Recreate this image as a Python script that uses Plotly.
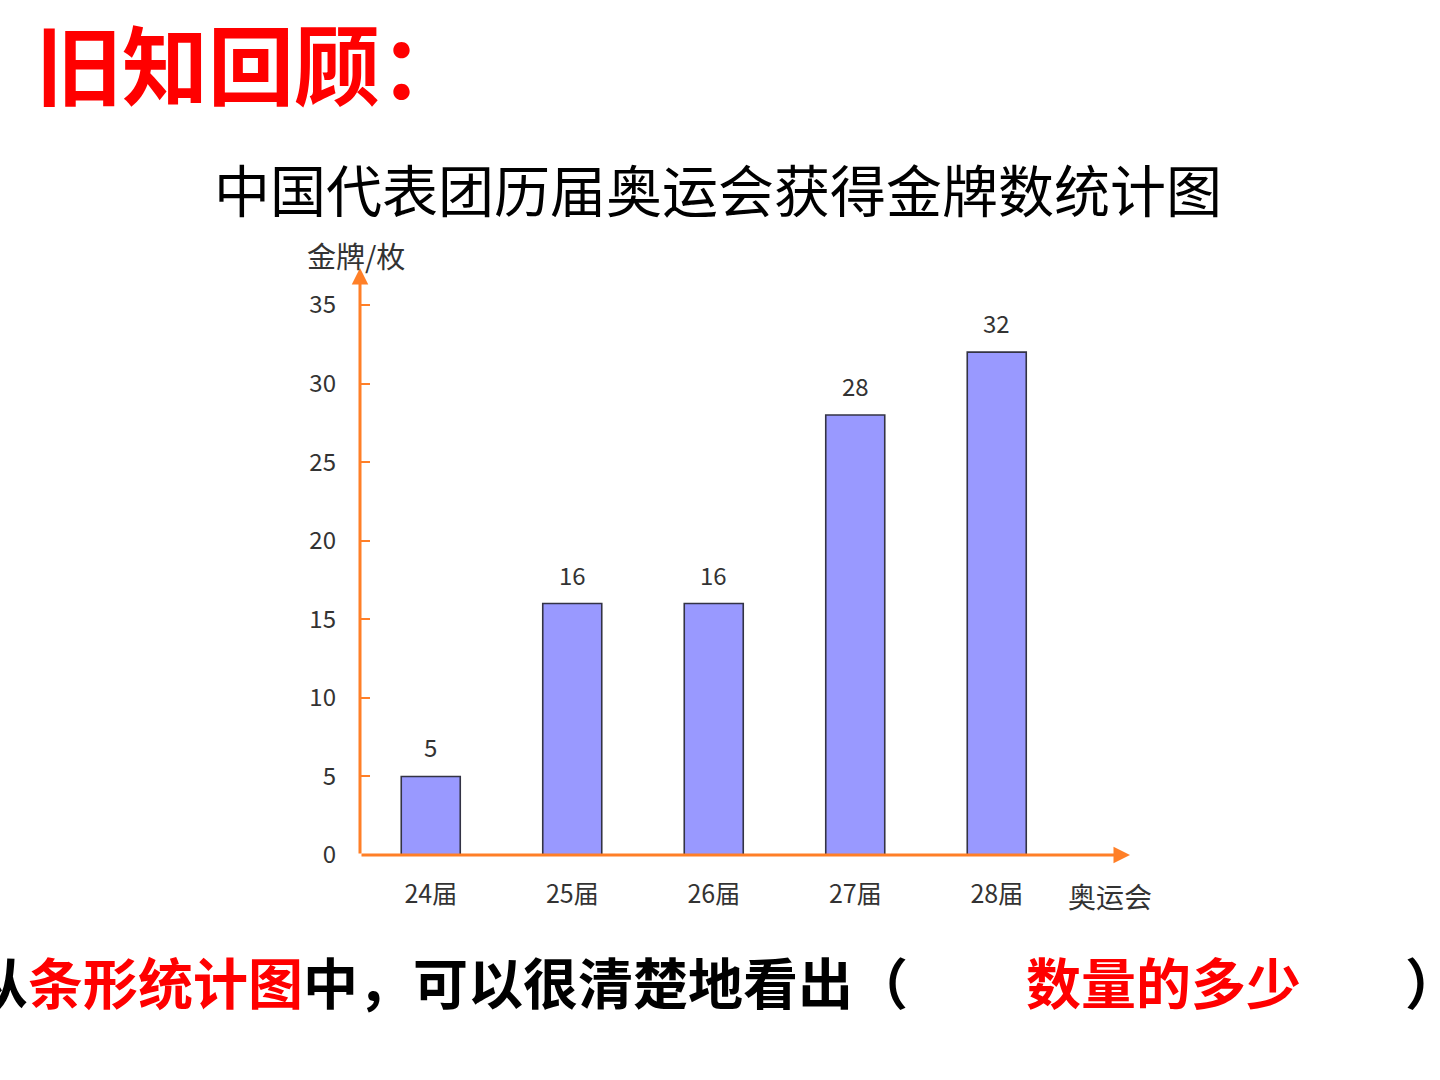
import plotly.graph_objects as go

# ---- data ----
categories = ["24届", "25届", "26届", "27届", "28届"]
gold_medals = [5, 16, 16, 28, 32]
y_ticks = [0, 5, 10, 15, 20, 25, 30, 35]

heading = "旧知回顾："
chart_title = "中国代表团历届奥运会获得金牌数统计图"
y_title = "金牌/枚"
x_title = "奥运会"

# ---- layout geometry (pixels) ----
FW, FH = 1440, 1080
L, R, T, B = 360, 1130, 268, 855
PW, PH = R - L, B - T

def px(x):
    return (x - L) / PW

def py(y):
    return (B - y) / PH

ORANGE = "#FF7F27"
FONT = "Noto Sans CJK SC"
X_MAX = -0.5 + PW / 141.5
Y_MAX = 35 * PH / (B - 305)

fig = go.Figure()
fig.add_trace(go.Bar(
    x=list(range(len(categories))),
    y=gold_medals,
    width=0.417,
    marker=dict(color="#9999FF", line=dict(color="#333344", width=1.6)),
    hoverinfo="skip",
))

annotations = []
for i, v in enumerate(gold_medals):
    annotations.append(dict(
        x=i, y=v, xref="x", yref="y", text=str(v), showarrow=False,
        yanchor="bottom", yshift=10,
        font=dict(family=FONT, size=24, color="#333333"),
    ))

# axis arrows
annotations.append(dict(
    x=X_MAX, y=0, ax=-0.5, ay=0, xref="x", yref="y", axref="x", ayref="y",
    text="", showarrow=True, arrowhead=2, arrowsize=1.1, arrowwidth=3,
    arrowcolor=ORANGE,
))
annotations.append(dict(
    x=-0.5, y=Y_MAX, ax=-0.5, ay=0, xref="x", yref="y", axref="x", ayref="y",
    text="", showarrow=True, arrowhead=2, arrowsize=1.1, arrowwidth=3,
    arrowcolor=ORANGE,
))

# texts
annotations += [
    dict(x=px(34), y=py(62), xref="paper", yref="paper", xanchor="left",
         yanchor="middle", text="<b>" + heading + "</b>", showarrow=False,
         font=dict(family=FONT, size=86, color="#FF0000")),
    dict(x=px(718), y=py(187), xref="paper", yref="paper", xanchor="center",
         yanchor="middle", text=chart_title, showarrow=False,
         font=dict(family=FONT, size=56, color="#000000")),
    dict(x=px(356), y=py(255), xref="paper", yref="paper", xanchor="center",
         yanchor="middle", text=y_title, showarrow=False,
         font=dict(family=FONT, size=29, color="#333333")),
    dict(x=px(1110), y=py(896), xref="paper", yref="paper", xanchor="center",
         yanchor="middle", text=x_title, showarrow=False,
         font=dict(family=FONT, size=28, color="#333333")),
    dict(x=px(-29), y=py(980), xref="paper", yref="paper", xanchor="left",
         yanchor="middle",
         text='<b>从<span style="color:#FF0000">条形统计图</span>中，可以很清楚地看出（</b>',
         showarrow=False, font=dict(family=FONT, size=55, color="#000000")),
    dict(x=px(1163), y=py(980), xref="paper", yref="paper", xanchor="center",
         yanchor="middle", text="<b>数量的多少</b>", showarrow=False,
         font=dict(family=FONT, size=55, color="#FF0000")),
    dict(x=px(1462), y=py(980), xref="paper", yref="paper", xanchor="right",
         yanchor="middle", text="<b>）</b>", showarrow=False,
         font=dict(family=FONT, size=55, color="#000000")),
]

fig.update_layout(
    width=FW, height=FH,
    margin=dict(l=L, r=FW - R, t=T, b=FH - B, pad=0),
    paper_bgcolor="white", plot_bgcolor="white",
    showlegend=False,
    annotations=annotations,
    xaxis=dict(
        range=[-0.5, X_MAX], tickmode="array",
        tickvals=list(range(len(categories))), ticktext=categories,
        showgrid=False, zeroline=False, showline=False, ticks="",
        tickfont=dict(family=FONT, size=25, color="#333333"),
        ticklabelstandoff=22,
    ),
    yaxis=dict(
        range=[0, Y_MAX], tickmode="array", tickvals=y_ticks,
        showgrid=False, zeroline=False, showline=False,
        ticks="inside", ticklen=10, tickwidth=2, tickcolor=ORANGE,
        tickfont=dict(family=FONT, size=24, color="#333333"),
        ticklabelstandoff=23,
    ),
)

fig.write_html("out.html")
